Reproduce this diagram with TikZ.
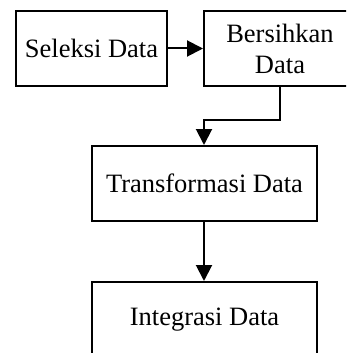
\documentclass[tikz,border=0pt]{standalone}
\usepackage{fontspec}
\setmainfont{Liberation Serif}
\usetikzlibrary{arrows.meta}
\begin{document}
\begin{tikzpicture}[x=1pt,y=-1pt,
  box/.style={draw=black, line width=2pt, inner sep=0pt, align=center,
    font=\fontsize{26.5}{31}\selectfont},
  conn/.style={draw=black, line width=2pt, -{Triangle[length=16pt,width=16pt]}}]
\useasboundingbox (0,0) rectangle (346,353);
\clip (0,0) rectangle (346,353);
\node[box, minimum width=151pt, minimum height=75pt] (b1) at (91.5,48.5) {Seleksi Data};
\node[box, minimum width=152pt, minimum height=75pt] (b2) at (280,48.5) {Bersihkan\\Data};
\node[box, minimum width=225pt, minimum height=75pt] (b3) at (204.5,183.5) {Transformasi Data};
\node[box, minimum width=225pt, minimum height=75pt] (b4) at (204.5,319.5) {Integrasi Data};
\coordinate (k1) at (280,120);
\coordinate (k2) at (204,120);
\draw[conn] (b1.east) -- (b2.west);
\draw[conn] (b2.south) -- (k1) -- (k2) -- (k2 |- b3.north);
\draw[conn] (b3.south -| k2) -- (k2 |- b4.north);
\end{tikzpicture}
\end{document}
